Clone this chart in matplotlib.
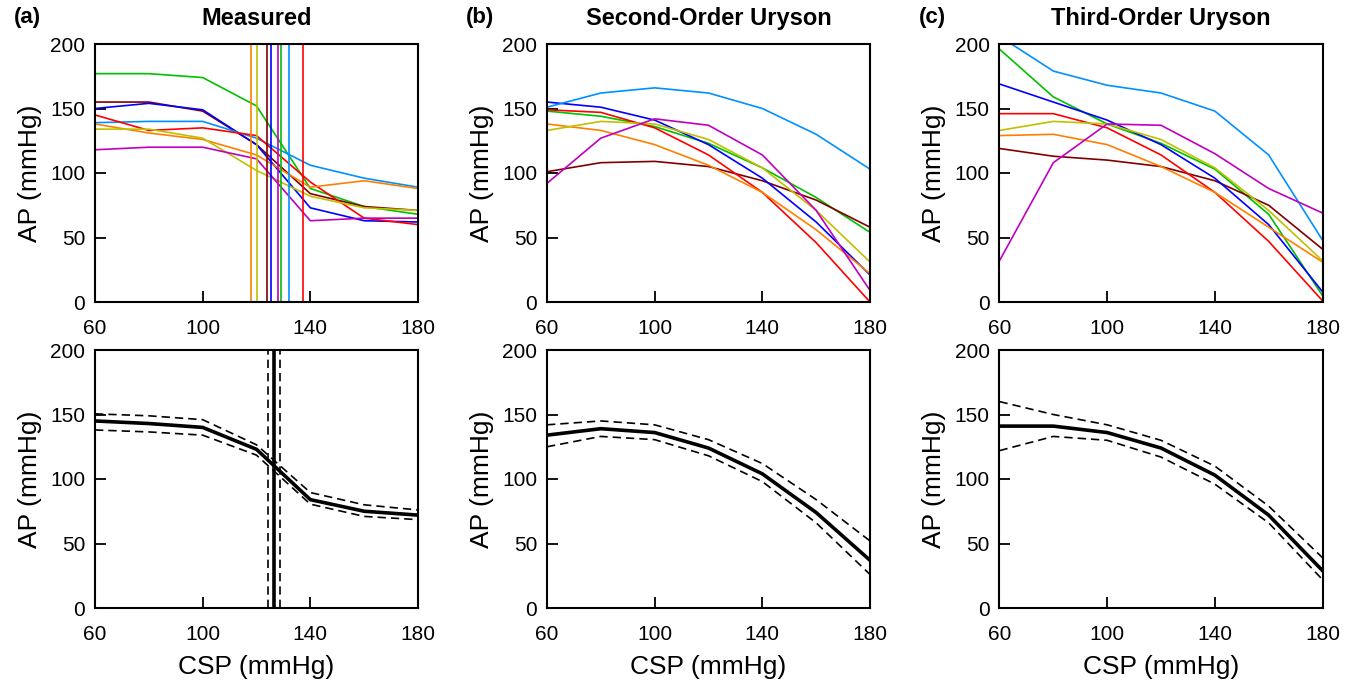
import numpy as np
import matplotlib
matplotlib.use("Agg")
import matplotlib.pyplot as plt

plt.rcParams['font.family'] = ['Liberation Sans', 'DejaVu Sans']

csp = [60, 80, 100, 120, 140, 160, 180]
names = ["green", "maroon", "blue", "lightblue", "red", "orange", "yellow", "magenta"]
colors = {"green": "#00c000", "maroon": "#800000", "blue": "#0000ff",
          "lightblue": "#0090ff", "red": "#ff0000", "orange": "#ff8000",
          "yellow": "#c0c000", "magenta": "#c000c0"}

# (a) measured curves and per-subject threshold (vertical lines)
measured = {
    "green":     [177, 177, 174, 152, 88, 74, 68],
    "maroon":    [155, 155, 148, 122, 84, 74, 71],
    "blue":      [150, 154, 149, 122, 73, 63, 62],
    "lightblue": [139, 140, 140, 127, 106, 96, 89],
    "red":       [145, 133, 135, 129, 93, 65, 60],
    "orange":    [138, 131, 126, 114, 89, 94, 88],
    "yellow":    [134, 134, 127, 102, 82, 73, 71],
    "magenta":   [118, 120, 120, 111, 63, 65, 65],
}
thresholds = {"orange": 117.8, "yellow": 120.1, "maroon": 123.9, "blue": 125.3,
              "magenta": 127.9, "green": 129.2, "lightblue": 131.9, "red": 137.3}

# (b) second-order Uryson model
second = {
    "lightblue": [151, 162, 166, 162, 150, 130, 103],
    "blue":      [155, 151, 141, 122, 96, 62, 21],
    "red":       [149, 147, 135, 114, 85, 46, 0],
    "green":     [148, 144, 136, 123, 104, 81, 54],
    "yellow":    [133, 140, 138, 126, 104, 71, 31],
    "orange":    [138, 133, 122, 106, 85, 56, 22],
    "magenta":   [92, 127, 142, 137, 114, 71, 9],
    "maroon":    [101, 108, 109, 105, 94, 79, 58],
}

# (c) third-order Uryson model
third = {
    "lightblue": [206, 179, 168, 162, 148, 114, 48],
    "green":     [196, 159, 138, 123, 103, 68, 5],
    "blue":      [169, 155, 141, 122, 96, 60, 8],
    "red":       [146, 146, 135, 114, 85, 47, 1],
    "yellow":    [133, 140, 138, 126, 104, 71, 32],
    "orange":    [129, 130, 122, 105, 85, 58, 31],
    "magenta":   [32, 108, 138, 137, 115, 88, 69],
    "maroon":    [119, 113, 110, 105, 94, 75, 41],
}

# bottom row: mean and +/- band
mean_a = [145, 143, 140, 123, 84, 75, 72]
upper_a = [150.5, 149, 146, 126.5, 89.5, 80, 76]
lower_a = [138, 136.5, 134, 118.5, 80.5, 71, 68.5]
thr_mean, thr_lo, thr_hi = 126.6, 124.3, 128.9

mean_b = [134, 139, 136, 124, 104, 74, 37]
upper_b = [142, 145, 142, 130.5, 112, 84, 52]
lower_b = [125, 133, 130.5, 118, 98, 66, 26]

mean_c = [141, 141, 136, 124, 103, 72, 29]
upper_c = [160, 150, 142, 130, 110, 79, 39]
lower_c = [122, 133, 130, 117, 96, 66, 22]

fig = plt.figure(figsize=(13.54, 6.84), dpi=100)
lefts = [95 / 1354, 547 / 1354, 999.5 / 1354]
w = 323 / 1354
h = 258 / 684
bottoms = [1 - 302 / 684, 1 - 608 / 684]

def style(ax, xlabel):
    ax.set_xlim(60, 180)
    ax.set_ylim(0, 200)
    ax.set_xticks([60, 100, 140, 180])
    ax.set_yticks([0, 50, 100, 150, 200])
    ax.tick_params(direction='in', length=8, width=1.3, labelsize=15)
    ax.tick_params(axis='x', pad=12)
    ax.tick_params(axis='y', pad=7)
    for s in ax.spines.values():
        s.set_linewidth(1.5)
    ax.set_ylabel("AP (mmHg)", fontsize=19, labelpad=6)
    if xlabel:
        ax.set_xlabel("CSP (mmHg)", fontsize=19, labelpad=8)

top_axes = [fig.add_axes([lefts[i], bottoms[0], w, h]) for i in range(3)]
bot_axes = [fig.add_axes([lefts[i], bottoms[1], w, h]) for i in range(3)]

# top row
ax = top_axes[0]
for n in names:
    ax.plot(csp, measured[n], color=colors[n], lw=1.2)
for n, t in thresholds.items():
    ax.axvline(t, color=colors[n], lw=1.2)
for ax, data in [(top_axes[1], second), (top_axes[2], third)]:
    for n in names:
        ax.plot(csp, data[n], color=colors[n], lw=1.2)

titles = ["Measured", "Second-Order Uryson", "Third-Order Uryson"]
tags = ["(a)", "(b)", "(c)"]
for i, ax in enumerate(top_axes):
    style(ax, False)
    ax.set_title(titles[i], fontsize=17, fontweight='bold', pad=14)
    fig.text(lefts[i] - 81 / 1354, 1 - 18 / 684, tags[i], fontsize=16,
             fontweight='bold', va='center', ha='left')

# bottom row
for ax, m, u, l in [(bot_axes[0], mean_a, upper_a, lower_a),
                    (bot_axes[1], mean_b, upper_b, lower_b),
                    (bot_axes[2], mean_c, upper_c, lower_c)]:
    ax.plot(csp, m, color='black', lw=2.6)
    ax.plot(csp, u, color='black', lw=1.2, ls=(0, (5, 3)))
    ax.plot(csp, l, color='black', lw=1.2, ls=(0, (5, 3)))
    style(ax, True)

bot_axes[0].axvline(thr_mean, color='black', lw=2.6)
bot_axes[0].axvline(thr_lo, color='black', lw=1.2, ls=(0, (5, 3)))
bot_axes[0].axvline(thr_hi, color='black', lw=1.2, ls=(0, (5, 3)))

fig.savefig("out.png", dpi=100)
